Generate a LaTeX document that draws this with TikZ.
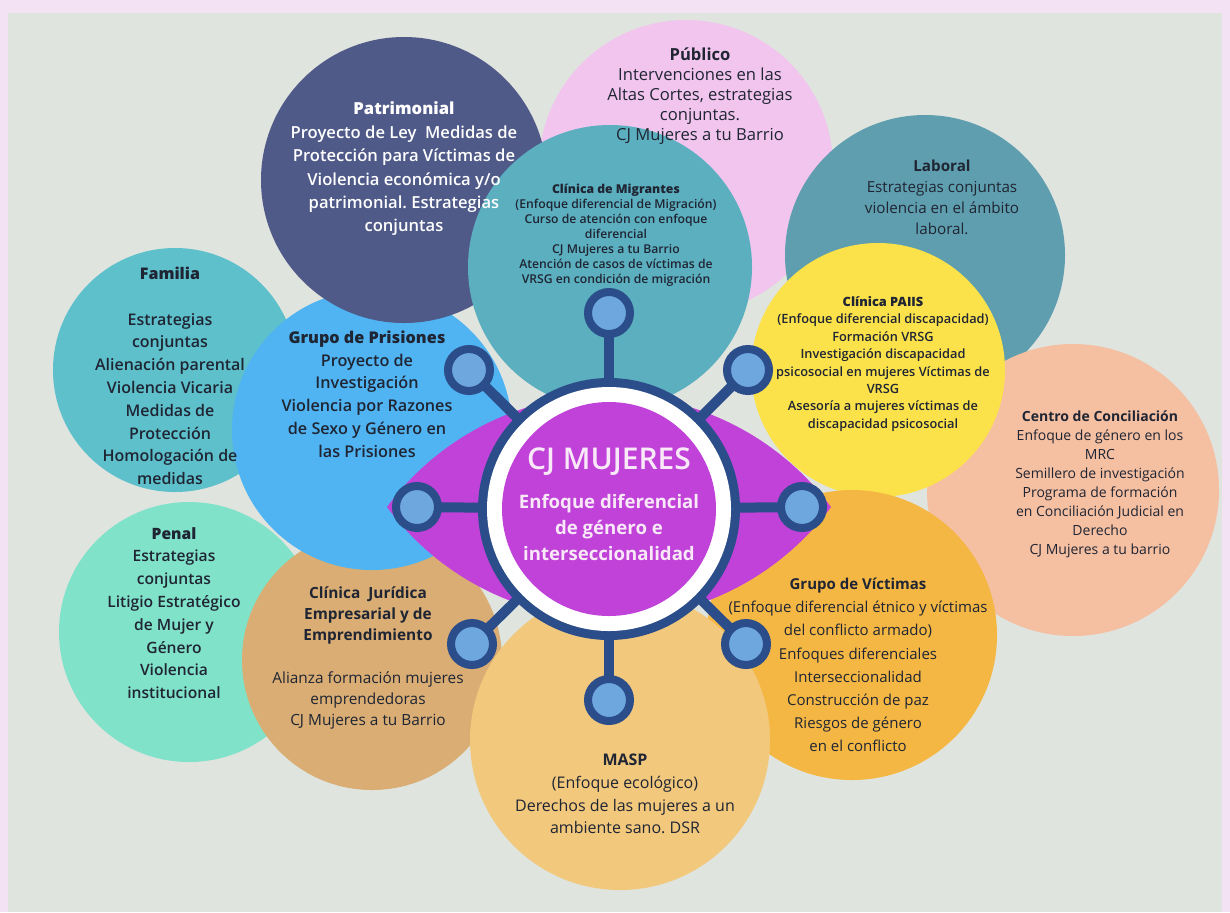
\documentclass[tikz,border=0pt]{standalone}
\usepackage{fontspec}
\setmainfont{Open Sans}
\IfFontExistsTF{Open Sans SemiBold}
  {\newfontfamily\semib{Open Sans SemiBold}}
  {\IfFontExistsTF{Open Sans Semibold}
     {\newfontfamily\semib{Open Sans Semibold}}
     {\newfontfamily\semib[FakeBold=1.6]{Open Sans}}}
\definecolor{bgpink}{HTML}{F2E2F4}
\definecolor{panel}{HTML}{DFE4DE}
\definecolor{cPatr}{HTML}{4F5A89}
\definecolor{cPubl}{HTML}{F2C5EE}
\definecolor{cLab}{HTML}{5F9EAE}
\definecolor{cFam}{HTML}{5DC0CB}
\definecolor{cMig}{HTML}{5CAFBF}
\definecolor{cPris}{HTML}{50B4F3}
\definecolor{cPaiis}{HTML}{FCE24A}
\definecolor{cConc}{HTML}{F5BFA2}
\definecolor{cPenal}{HTML}{80E2C9}
\definecolor{cJur}{HTML}{D9AD74}
\definecolor{cVict}{HTML}{F5B744}
\definecolor{cMasp}{HTML}{F2C87D}
\definecolor{eye}{HTML}{C042D8}
\definecolor{navy}{HTML}{2B4D89}
\definecolor{knobfill}{HTML}{6EA7DD}
\definecolor{ctext}{HTML}{F8E8F8}
\definecolor{ink}{HTML}{1F2533}
\tikzset{
  bubble/.style={circle, inner sep=0pt, draw=none},
  txt/.style={align=center, text=ink, inner sep=0pt},
  knob/.style={circle, fill=knobfill, draw=navy, line width=4pt, minimum size=21pt, inner sep=0pt},
  spoke/.style={draw=navy, line width=5pt},
}
\frenchspacing
\begin{document}
\begin{tikzpicture}[x=0.5pt,y=-0.5pt]
\useasboundingbox (0,0) rectangle (1230,912);
\fill[bgpink] (0,0) rectangle (1230,912);
\fill[panel] (8,13) rectangle (1222,912);
% bubbles, back to front
\node[bubble, fill=cPubl, minimum size=147pt] (publ) at (686,167) {};
\node[bubble, fill=cLab, minimum size=140pt] (lab) at (925,255) {};
\node[bubble, fill=cConc, minimum size=146pt] (conc) at (1073,490) {};
\node[bubble, fill=cPenal, minimum size=130pt] (penal) at (189,632) {};
\node[bubble, fill=cJur, minimum size=130pt] (jur) at (372,660) {};
\node[bubble, fill=cFam, minimum size=122pt] (fam) at (175,370) {};
\node[bubble, fill=cPris, minimum size=140pt] (pris) at (372,430) {};
\node[bubble, fill=cPatr, minimum size=143pt] (patr) at (404,180) {};
\node[bubble, fill=cMig, minimum size=142pt] (mig) at (610,267) {};
\node[bubble, fill=cPaiis, minimum size=127pt] (paiis) at (878,370) {};
\node[bubble, fill=cVict, minimum size=145pt] (vict) at (852,635) {};
\node[bubble, fill=cMasp, minimum size=150pt] (masp) at (620,740) {};
% texts
\node[txt, text=white, font=\semib\fontsize{8.3}{11.7}\selectfont] (patrT) at (404,169)
 {\textbf{Patrimonial}\\Proyecto de Ley\ \ Medidas de\\Protección para Víctimas de\\Violencia económica y/o\\patrimonial. Estrategias\\conjuntas};
\node[txt, font=\fontsize{8.3}{10}\selectfont] (publT) at (700,96)
 {\textbf{Público}\\Intervenciones en las\\Altas Cortes, estrategias\\conjuntas.\\CJ Mujeres a tu Barrio};
\node[txt, font=\semib\fontsize{6.1}{7.5}\selectfont] (migT) at (616,235)
 {\textbf{Clínica de Migrantes}\\(Enfoque diferencial de Migración)\\Curso de atención con enfoque\\diferencial\\CJ Mujeres a tu Barrio\\Atención de casos de víctimas de\\VRSG en condición de migración};
\node[txt, font=\fontsize{7.6}{10.5}\selectfont] (labT) at (942,197)
 {\textbf{Laboral}\\Estrategias conjuntas\\violencia en el ámbito\\laboral.};
\node[txt, font=\semib\fontsize{8}{11.4}\selectfont] (famT) at (170,376)
 {\textbf{Familia}\\[11.4pt]Estrategias\\conjuntas\\Alienación parental\\Violencia Vicaria\\Medidas de\\Protección\\Homologación de\\medidas};
\node[txt, font=\semib\fontsize{8.1}{11.4}\selectfont] (prisT) at (367,394)
 {\textbf{Grupo de Prisiones}\\Proyecto de\\Investigación\\Violencia por Razones\\de Sexo y Género en\\las Prisiones};
\node[txt, font=\semib\fontsize{6.4}{8.7}\selectfont] (paiisT) at (883,364)
 {\textbf{Clínica PAIIS}\\(Enfoque diferencial discapacidad)\\Formación VRSG\\Investigación discapacidad\\psicosocial en mujeres Víctimas de\\VRSG\\Asesoría a mujeres víctimas de\\discapacidad psicosocial};
\node[txt, font=\fontsize{7}{9.5}\selectfont] (concT) at (1100,484)
 {\textbf{Centro de Conciliación}\\Enfoque de género en los\\MRC\\Semillero de investigación\\Programa de formación\\en Conciliación Judicial en\\Derecho\\CJ Mujeres a tu barrio};
\node[txt, font=\semib\fontsize{7.8}{11.4}\selectfont] (penalT) at (174,613)
 {\textbf{Penal}\\Estrategias\\conjuntas\\Litigio Estratégico\\de Mujer y\\Género\\Violencia\\institucional};
\node[txt, font=\fontsize{7.7}{10.6}\selectfont] (jurT) at (368,658)
 {\textbf{Clínica\ \ Jurídica}\\\textbf{Empresarial y de}\\\textbf{Emprendimiento}\\[10.6pt]Alianza formación mujeres\\emprendedoras\\CJ Mujeres a tu Barrio};
\node[txt, font=\fontsize{7.5}{11.6}\selectfont] (victT) at (858,665)
 {\textbf{Grupo de Víctimas}\\(Enfoque diferencial étnico y víctimas\\del conflicto armado)\\Enfoques diferenciales\\Interseccionalidad\\Construcción de paz\\Riesgos de género\\en el conflicto};
\node[txt, font=\fontsize{8}{11.3}\selectfont] (maspT) at (625,794)
 {\textbf{MASP}\\(Enfoque ecológico)\\Derechos de las mujeres a un\\ambiente sano. DSR};
% central eye
\fill[eye] (387,507) arc[start angle=216.45, end angle=323.55, radius=276]
  arc[start angle=36.45, end angle=143.55, radius=276] -- cycle;
\coordinate (c0) at (609,509);
\coordinate (p1) at (609,313);
\coordinate (p2) at (748,370);
\coordinate (p3) at (802,507);
\coordinate (p4) at (746,644);
\coordinate (p5) at (609,700);
\coordinate (p6) at (472,644);
\coordinate (p7) at (417,507);
\coordinate (p8) at (469,370);
\foreach \p in {p1,p2,p3,p4,p5,p6,p7,p8} \draw[spoke] (c0) -- (\p);
\node[bubble, fill=navy, minimum size=131pt] (hub) at (c0) {};
\node[bubble, fill=white, minimum size=122pt] (hubw) at (c0) {};
\node[bubble, fill=eye, minimum size=107pt] (hubp) at (c0) {};
\foreach \p [count=\i] in {p1,p2,p3,p4,p5,p6,p7,p8} \node[knob] (k\i) at (\p) {};
\node[inner sep=0pt, text=ctext, font=\semib\fontsize{15}{17}\selectfont] (title) at (609,462) {CJ MUJERES};
\node[inner sep=0pt, align=center, text=ctext, font=\bfseries\fontsize{9.3}{13}\selectfont] (sub) at (609,527)
 {Enfoque diferencial\\de género e\\interseccionalidad};
\end{tikzpicture}
\end{document}
